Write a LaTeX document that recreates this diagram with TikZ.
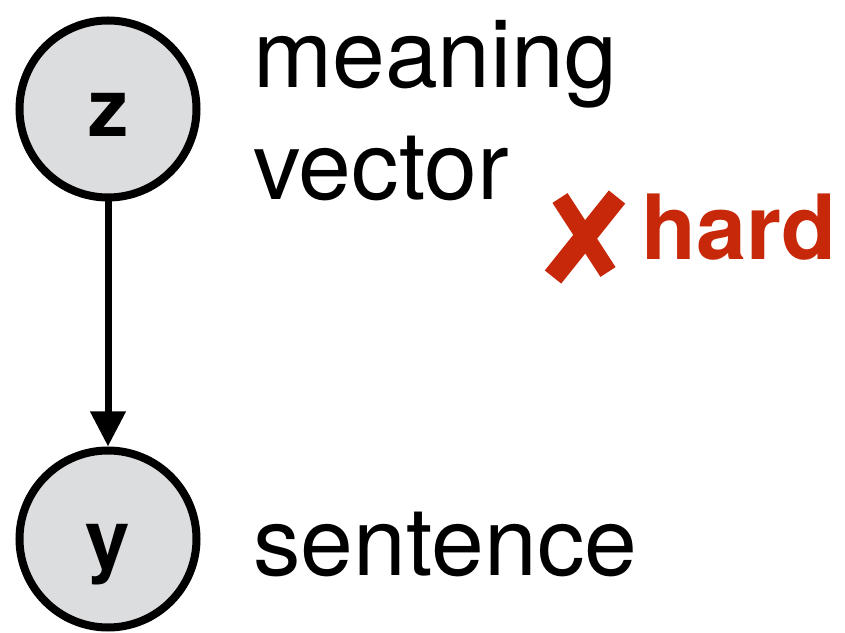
\documentclass[tikz,border=0pt]{standalone}
\usepackage{fontspec}
\setmainfont{TeX Gyre Heros}
\usepackage{xcolor}
\usetikzlibrary{arrows.meta,positioning}
\definecolor{nodegray}{HTML}{DCDDDF}
\definecolor{hardred}{HTML}{C8280A}
\tikzset{
	var/.style={draw, circle, line width=8pt, fill=nodegray, inner sep=0pt,
		minimum size=177pt, text height=56pt, text depth=0pt,
		font=\fontsize{80}{80}\selectfont\bfseries},
	arrow/.style={-{Triangle[length=35pt,width=34pt]}, line width=7pt},
	desc/.style={anchor=base west, inner sep=0pt, font=\fontsize{95}{112}\selectfont}
}

\begin{document}
\begin{tikzpicture}[x=1pt, y=1pt]
	\useasboundingbox (0,0) rectangle (845,632);
	
	%% -- Variables
	\node[var] (z) at (108,523) {z};
	\node[var] (y) at (108,93) {y};
	
	%% -- Generative edge
	\draw[arrow] (z) -- (y);
	
	%% -- Descriptions
	\node[desc] (zlab1) at (253,544) {meaning};
	\node[desc] (zlab2) at (253,432) {vector};
	\node[desc] (ylab) at (253,57) {sentence};
	
	%% -- Hard mark
	\draw[hardred, line width=18pt] (560,434) -- (608,360);
	\draw[hardred, line width=21pt] (617,435) -- (553,355);
	\node[desc, text=hardred, font=\fontsize{90}{90}\selectfont\bfseries] (hard) at (641,372) {hard};
	
\end{tikzpicture}
\end{document}
